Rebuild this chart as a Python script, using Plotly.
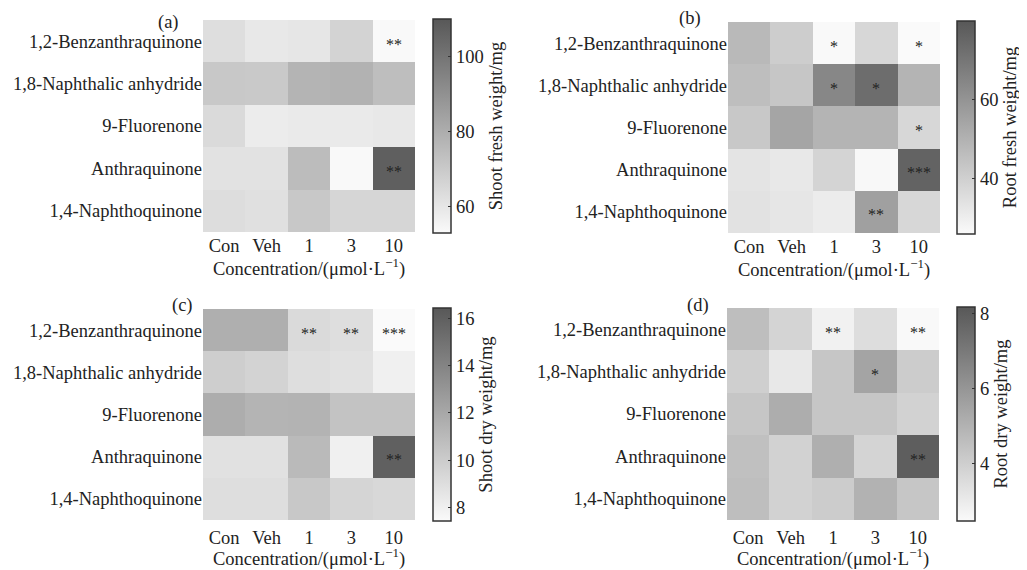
import plotly.graph_objects as go

compounds = ["1,2-Benzanthraquinone", "1,8-Naphthalic anhydride", "9-Fluorenone",
             "Anthraquinone", "1,4-Naphthoquinone"]
concentrations = ["Con", "Veh", "1", "3", "10"]

# (a) Shoot fresh weight/mg
shoot_fresh = [
    [62.8, 59.3, 60.0, 66.4, 53.0],
    [70.6, 70.0, 77.6, 78.3, 74.0],
    [64.0, 57.6, 58.6, 58.6, 59.3],
    [61.4, 61.4, 74.8, 53.2, 107.5],
    [63.0, 62.0, 70.6, 65.6, 65.6],
]
shoot_fresh_sig = [
    ["", "", "", "", "**"],
    ["", "", "", "", ""],
    ["", "", "", "", ""],
    ["", "", "", "", "**"],
    ["", "", "", "", ""],
]
# (b) Root fresh weight/mg
root_fresh = [
    [47.7, 41.0, 26.5, 37.7, 26.0],
    [46.0, 43.3, 64.3, 72.7, 49.3],
    [42.7, 54.3, 49.3, 49.3, 37.7],
    [33.3, 32.0, 38.7, 26.7, 76.0],
    [34.0, 32.7, 30.7, 56.0, 37.7],
]
root_fresh_sig = [
    ["", "", "*", "", "*"],
    ["", "", "*", "*", ""],
    ["", "", "", "", "*"],
    ["", "", "", "", "***"],
    ["", "", "", "**", ""],
]
# (c) Shoot dry weight/mg
shoot_dry = [
    [11.6, 11.6, 9.2, 9.0, 7.4],
    [9.9, 9.6, 9.0, 8.8, 8.0],
    [11.7, 11.3, 11.4, 10.5, 10.5],
    [8.8, 8.8, 11.0, 8.0, 16.0],
    [9.0, 9.0, 10.2, 9.5, 9.3],
]
shoot_dry_sig = [
    ["", "", "**", "**", "***"],
    ["", "", "", "", ""],
    ["", "", "", "", ""],
    ["", "", "", "", "**"],
    ["", "", "", "", ""],
]
# (d) Root dry weight/mg
root_dry = [
    [4.6, 3.8, 2.8, 3.5, 2.5],
    [4.0, 3.1, 4.3, 5.5, 4.1],
    [4.3, 5.2, 4.3, 4.3, 3.9],
    [4.5, 3.9, 5.1, 3.8, 7.95],
    [4.6, 3.9, 4.1, 5.0, 4.3],
]
root_dry_sig = [
    ["", "", "**", "", "**"],
    ["", "", "", "*", ""],
    ["", "", "", "", ""],
    ["", "", "", "", "**"],
    ["", "", "", "", ""],
]

# page body has an 8px margin; the figure extends to the window's right/bottom edges
OFF = 8
W, H = 1027 - OFF, 570 - OFF
FONT = "Liberation Serif"
FS = 18.5
scale = [[0, "rgb(250,250,250)"], [1, "rgb(88,88,88)"]]


def fx(px):
    return (px - OFF) / W


def fy(py):
    return 1 - (py - OFF) / H


panels = [
    dict(z=shoot_fresh, t=shoot_fresh_sig, title="Shoot fresh weight/mg", zr=(52.8, 110.0),
         tv=[60, 80, 100], px=(203, 415), py=(20, 232), cbx=433, lab="(a)", lx=168, ly=22,
         tl=0, so=5),
    dict(z=root_fresh, t=root_fresh_sig, title="Root fresh weight/mg", zr=(26.1, 79.7),
         tv=[40, 60], px=(728, 940), py=(22, 233), cbx=957, lab="(b)", lx=690, ly=18,
         tl=0, so=5),
    dict(z=shoot_dry, t=shoot_dry_sig, title="Shoot dry weight/mg", zr=(7.43, 16.44),
         tv=[8, 10, 12, 14, 16], px=(203, 415), py=(309, 520), cbx=433, lab="(c)", lx=182, ly=305,
         tl=1, so=3),
    dict(z=root_dry, t=root_dry_sig, title="Root dry weight/mg", zr=(2.48, 8.17),
         tv=[4, 6, 8], px=(727, 939), py=(308, 520), cbx=957, lab="(d)", lx=698, ly=305,
         tl=1, so=3),
]

fig = go.Figure()
layout = dict(width=W, height=H, margin=dict(l=0, r=0, t=0, b=0),
              paper_bgcolor="white", plot_bgcolor="white",
              font=dict(family=FONT, size=17, color="#222"), showlegend=False)
annotations = []
nx, ny = len(concentrations), len(compounds)
for i, p in enumerate(panels):
    n = "" if i == 0 else str(i + 1)
    xa, ya = "x" + n, "y" + n
    x0, x1 = fx(p["px"][0]), fx(p["px"][1])
    y0, y1 = fy(p["py"][1]), fy(p["py"][0])
    cby = fy((p["py"][0] + p["py"][1]) / 2)
    fig.add_trace(go.Heatmap(
        z=p["z"], x=concentrations, y=compounds,
        colorscale=scale, zmin=p["zr"][0], zmax=p["zr"][1], xaxis=xa, yaxis=ya,
        hoverinfo="skip",
        colorbar=dict(x=fx(p["cbx"]), xanchor="left", y=cby, yanchor="middle",
                      len=p["py"][1] - p["py"][0] + 2, lenmode="pixels", thickness=18,
                      xpad=0, ypad=0, outlinewidth=1.5, outlinecolor="#333",
                      ticks="inside", ticklen=3, tickcolor="#333", tickvals=p["tv"],
                      tickfont=dict(family=FONT, size=FS, color="#222"),
                      title=dict(text=p["title"], side="right",
                                 font=dict(family=FONT, size=FS, color="#222"))),
    ))
    for r in range(ny):
        for c in range(nx):
            s = p["t"][r][c]
            if s:
                annotations.append(dict(text=s, x=c, y=r, xref=xa, yref=ya,
                                        showarrow=False, yshift=-3,
                                        font=dict(family=FONT, size=16, color="#222")))
    xax = dict(domain=[x0, x1], anchor=ya, type="category",
               range=[-0.5, nx - 0.5],
               showgrid=False, zeroline=False, showline=False,
               fixedrange=True,
               tickfont=dict(family=FONT, size=FS, color="#222"),
               title=dict(text="Concentration/(μmol·L<sup>−1</sup>)",
                          standoff=p["so"],
                          font=dict(family=FONT, size=FS, color="#222")))
    if p["tl"] > 0:
        xax.update(ticks="outside", ticklen=p["tl"], tickcolor="rgba(0,0,0,0)")
    else:
        xax.update(ticks="")
    layout["xaxis" + n] = xax
    layout["yaxis" + n] = dict(domain=[y0, y1], anchor=xa, type="category",
                               range=[ny - 0.5, -0.5], showgrid=False, zeroline=False,
                               showline=False, ticks="", fixedrange=True,
                               tickfont=dict(family=FONT, size=FS, color="#222"))
    annotations.append(dict(text=p["lab"], x=fx(p["lx"]), y=fy(p["ly"]), xref="paper",
                            yref="paper", showarrow=False, xanchor="center", yanchor="middle",
                            font=dict(family=FONT, size=FS, color="#222")))
layout["annotations"] = annotations
fig.update_layout(**layout)
fig.write_html("out.html")
